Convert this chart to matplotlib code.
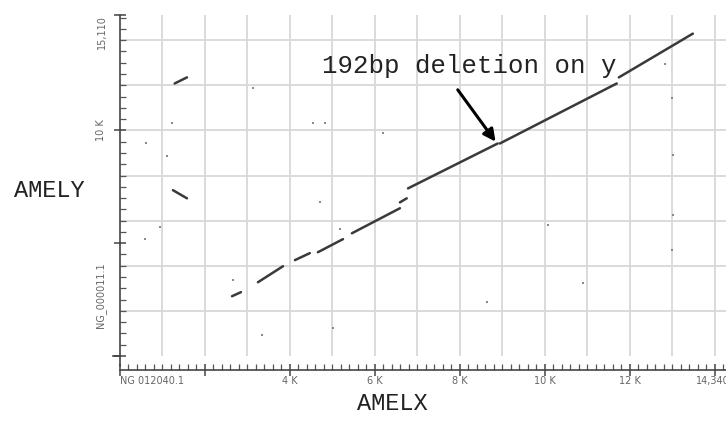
import matplotlib
matplotlib.use("Agg")
import matplotlib.pyplot as plt
from matplotlib.ticker import MultipleLocator, FixedLocator
from matplotlib.lines import Line2D

# Alignment segments (bp): AMELX (x) vs AMELY (y)
seg_x0 = [2640, 3250, 4120, 4660, 5460, 6590, 6780, 8940, 11740, 1290, 1250]
seg_x1 = [2850, 3840, 4470, 5250, 6590, 6750, 8890, 11690, 13480, 1580, 1580]
seg_y0 = [2650, 3270, 4250, 4600, 5440, 6810, 7430, 9420, 12350, 12080, 7350]
seg_y1 = [2830, 3980, 4560, 5180, 6550, 6990, 9420, 12080, 14290, 12350, 6990]

# Isolated short hits (bp)
dot_x = [3130, 1220, 610, 1110, 940, 590, 2660, 4710, 5180, 3340, 5010, 8640,
         12820, 12990, 13010, 13010, 12990, 10070, 10890, 6190, 4540, 4820]
dot_y = [11900, 10310, 9420, 8850, 5710, 5180, 3360, 6810, 5620, 930, 1240, 2390,
         12960, 11420, 8890, 6240, 4690, 5800, 3230, 9870, 10350, 10350]

x_len = 14340
y_len = 15110
x_name = "NG 012040.1"
y_name = "NG_000011.1"
x_tick_vals = [4000, 6000, 8000, 10000, 12000]
x_tick_labels = ["4 K", "6 K", "8 K", "10 K", "12 K"]

fig = plt.figure(figsize=(7.26, 4.45), dpi=100)
ax = fig.add_axes([0.165, 0.2, 0.835, 0.766])

ax.set_xlim(0, 14260)
ax.set_ylim(0, y_len)

# grid
for gx in range(1000, 15000, 1000):
    ax.axvline(gx, color="#d8d8d8", lw=1.3, zorder=0)
for gy in range(2000, 15000, 2000):
    ax.axhline(gy, color="#d8d8d8", lw=1.3, zorder=0)

for a, b, c, d in zip(seg_x0, seg_x1, seg_y0, seg_y1):
    ax.plot([a, b], [c, d], color="#3a3a3a", lw=1.8, solid_capstyle="round", zorder=3)
ax.scatter(dot_x, dot_y, s=3, color="#8a8a8a", marker="s", linewidths=0, zorder=2)

# spines
for s in ["top", "right"]:
    ax.spines[s].set_visible(False)
ax.spines["bottom"].set_position(("outward", 10))
ax.spines["left"].set_color("#444444")
ax.spines["bottom"].set_color("#444444")
ax.spines["left"].set_linewidth(1.2)
ax.spines["bottom"].set_linewidth(1.2)
ax.add_line(Line2D([-0.012, 0.0, 0.0], [0.0, 0.0, -0.0294], transform=ax.transAxes,
                   color="#444444", lw=1.2, clip_on=False))

# x ticks
ax.xaxis.set_major_locator(FixedLocator([0, 2000, 4000, 6000, 8000, 10000, 12000, 14000]))
ax.set_xticklabels([""] * 8)
ax.xaxis.set_minor_locator(MultipleLocator(200))
ax.tick_params(axis="x", which="major", direction="inout", length=9, width=1.1, color="#444444")
ax.tick_params(axis="x", which="minor", direction="in", length=4, width=0.9, color="#555555")
xt = ax.get_xaxis_transform()
for v, lab in zip(x_tick_vals, x_tick_labels):
    ax.text(v, -0.06, lab, transform=xt, ha="center", va="top", fontsize=7, color="#666666")
ax.text(0, -0.06, x_name, transform=xt, ha="left", va="top", fontsize=7, color="#666666")
ax.text(x_len, -0.06, "14,340", transform=xt, ha="right", va="top", fontsize=7,
        color="#666666", clip_on=False)

# y ticks
ax.yaxis.set_major_locator(FixedLocator([0, 5000, 10000, y_len]))
ax.set_yticklabels([""] * 4)
ax.yaxis.set_minor_locator(MultipleLocator(500))
ax.tick_params(axis="y", which="major", direction="inout", length=9, width=1.1, color="#444444")
ax.tick_params(axis="y", which="minor", direction="in", length=4, width=0.9, color="#555555")
yt = ax.get_yaxis_transform()
ax.text(-0.022, 10000, "10 K", transform=yt, rotation=90, ha="right", va="center",
        fontsize=7, color="#666666")
ax.text(-0.022, 14350, "15,110", transform=yt, rotation=90, ha="right", va="center",
        fontsize=7, color="#666666")
ax.text(-0.022, 2700, y_name, transform=yt, rotation=90, ha="right", va="center",
        fontsize=7, color="#666666")

# axis titles
fig.text(0.068, 0.573, "AMELY", ha="center", va="center", fontsize=17,
         family="Liberation Mono", color="#222222")
fig.text(0.541, 0.093, "AMELX", ha="center", va="center", fontsize=17,
         family="Liberation Mono", color="#222222")

# annotation
ax.text(4750, 12850, "192bp deletion on y", ha="left", va="center", fontsize=18.5,
        family="Liberation Mono", color="#222222")
ax.annotate("", xy=(8840, 9500), xytext=(7950, 11800),
            arrowprops=dict(arrowstyle="-|>", color="black", lw=2.2,
                            mutation_scale=18, shrinkA=0, shrinkB=0))

fig.savefig("out.png", dpi=100)
